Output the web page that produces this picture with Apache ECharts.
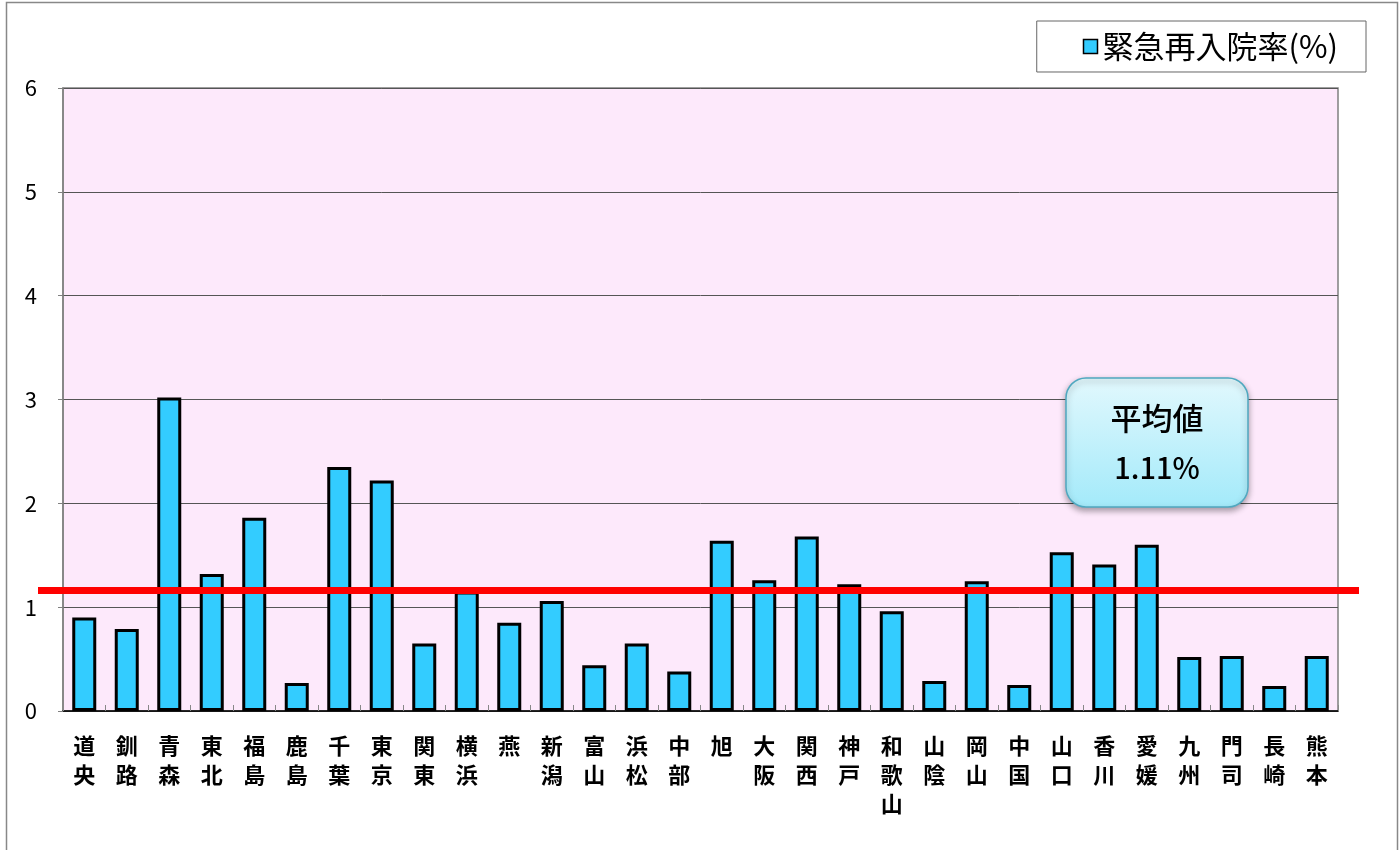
<!DOCTYPE html>
<html lang="ja">
<head>
<meta charset="UTF-8">
<title>緊急再入院率</title>
<script src="https://cdn.jsdelivr.net/npm/echarts@6/dist/echarts.min.js"></script>
<style>
    body{ margin:0; background:#fff; }
    #chart{ width:1399px; height:850px; }
</style>
</head>
<body>
<div id="chart"></div>
<script>
    // 施設名
    var categories = ['道央','釧路','青森','東北','福島','鹿島','千葉','東京','関東','横浜',
        '燕','新潟','富山','浜松','中部','旭','大阪','関西','神戸','和歌山',
        '山陰','岡山','中国','山口','香川','愛媛','九州','門司','長崎','熊本'];
    // 緊急再入院率(%)
    var rates = [0.90,0.79,3.02,1.32,1.86,0.27,2.35,2.22,0.65,1.15,
        0.85,1.06,0.44,0.65,0.38,1.64,1.26,1.68,1.22,0.96,
        0.29,1.25,0.25,1.53,1.41,1.60,0.52,0.53,0.24,0.53];
    // 平均値 (線は図の位置に合わせる)
    var avgLabel = '1.11%';
    var avgLine = 1.16;
    var yTicks = [0, 6, 1];

    var font = '"Noto Sans CJK JP", "Noto Sans", sans-serif';
    var chart = echarts.init(document.getElementById('chart'));

    var option = {
        animation: false,
        textStyle: { fontFamily: font },
        grid: {
            left: 63, right: 61, top: 88, bottom: 139,
            show: true,
            backgroundColor: '#FDE9FB',
            borderColor: '#808080',
            borderWidth: 1.5
        },
        legend: {
            right: 33, top: 21,
            padding: [10, 28, 10, 46],
            borderColor: '#666',
            borderWidth: 1,
            itemWidth: 14, itemHeight: 14,
            itemGap: 5,
            textStyle: { fontSize: 31, color: '#000', fontFamily: font },
            data: [{ name: '緊急再入院率(%)', icon: 'rect', itemStyle: { color: '#33CCFF', borderColor: '#000', borderWidth: 1.5 } }]
        },
        xAxis: {
            type: 'category',
            data: categories,
            axisLine: { lineStyle: { color: '#000', width: 1.5 } },
            axisTick: { show: true, inside: true, length: 6, lineStyle: { color: '#888' } },
            axisLabel: {
                interval: 0,
                margin: 20,
                color: '#000',
                fontSize: 22,
                fontWeight: 'bold',
                lineHeight: 29,
                formatter: function (v) { return v.split('').join('\n'); }
            }
        },
        yAxis: {
            type: 'value',
            min: yTicks[0], max: yTicks[1], interval: yTicks[2],
            axisLine: { show: true, lineStyle: { color: '#808080', width: 1.5 } },
            axisTick: { show: true, length: 5, lineStyle: { color: '#808080' } },
            splitLine: { lineStyle: { color: '#555', width: 1 } },
            axisLabel: { color: '#000', fontSize: 22, margin: 26, fontFamily: font }
        },
        series: [{
            name: '緊急再入院率(%)',
            type: 'bar',
            data: rates,
            barWidth: 24,
            itemStyle: { color: '#33CCFF', borderColor: '#000', borderWidth: 3 },
            markLine: {
                silent: true,
                symbol: 'none',
                label: { show: false },
                lineStyle: { color: '#FF0000', width: 7, type: 'solid' },
                data: [[{ x: 38, yAxis: avgLine }, { x: 1359, yAxis: avgLine }]]
            }
        }],
        graphic: [
            {
                type: 'rect',
                left: 4, top: 0,
                shape: { width: 1391, height: 860 },
                style: { fill: 'none', stroke: '#888', lineWidth: 1.5 },
                silent: true, z: -1
            },
            {
                type: 'rect',
                z: 100,
                shape: { x: 1066, y: 378, width: 182, height: 129, r: 20 },
                style: {
                    fill: new echarts.graphic.LinearGradient(0, 0, 0, 1, [
                        { offset: 0, color: '#E2F8FD' },
                        { offset: 1, color: '#A3EAFA' }
                    ]),
                    stroke: '#4FA8C0',
                    lineWidth: 1.5,
                    shadowBlur: 6,
                    shadowOffsetY: 3,
                    shadowColor: 'rgba(0,0,0,0.35)'
                }
            },
            {
                type: 'text',
                z: 101,
                style: { x: 1157, y: 418, text: '平均値', font: '500 31px "Noto Sans CJK JP"', fill: '#000', align: 'center', verticalAlign: 'middle' }
            },
            {
                type: 'text',
                z: 101,
                style: { x: 1157, y: 468, text: avgLabel, font: '500 29px "Noto Sans CJK JP"', fill: '#000', align: 'center', verticalAlign: 'middle' }
            }
        ]
    };

    chart.setOption(option);
</script>
</body>
</html>
